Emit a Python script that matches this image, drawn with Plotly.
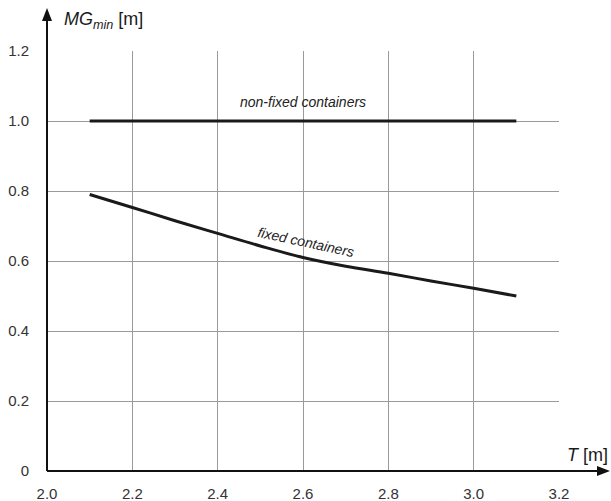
import plotly.graph_objects as go

# ---- data ----
T_fixed = [2.1, 2.2, 2.3, 2.4, 2.5, 2.6, 2.7, 2.8, 2.9, 3.0, 3.1]
MG_fixed = [0.790, 0.753, 0.715, 0.679, 0.643, 0.610, 0.585, 0.565, 0.543, 0.522, 0.500]
T_nonfixed = [2.1, 3.1]
MG_nonfixed = [1.0, 1.0]

x_ticks = [2.0, 2.2, 2.4, 2.6, 2.8, 3.0, 3.2]
x_tick_labels = ["2.0", "2.2", "2.4", "2.6", "2.8", "3.0", "3.2"]
y_ticks = [0, 0.2, 0.4, 0.6, 0.8, 1.0, 1.2]
y_tick_labels = ["0", "0.2", "0.4", "0.6", "0.8", "1.0", "1.2"]

FONT = "Liberation Sans, Arial, sans-serif"
W, H = 611, 501
ML, MR, MT, MB = 47, 52, 51, 30
PW, PH = W - ML - MR, H - MT - MB
X_TIP = (610 - ML) / PW          # x-axis arrow tip (paper)
Y_TIP = (H - MB - 8) / PH        # y-axis arrow tip (paper)
AX_COL = "#111111"

fig = go.Figure()
fig.add_trace(go.Scatter(x=T_nonfixed, y=MG_nonfixed, mode="lines",
                         line=dict(color="#1a1a1a", width=3), showlegend=False,
                         hoverinfo="skip"))
fig.add_trace(go.Scatter(x=T_fixed, y=MG_fixed, mode="lines",
                         line=dict(color="#1a1a1a", width=3, shape="spline"),
                         showlegend=False, hoverinfo="skip"))

shapes = [
    # axis lines
    dict(type="line", xref="paper", yref="paper", x0=0, y0=0, x1=X_TIP - 10 / PW, y1=0,
         line=dict(color=AX_COL, width=2), layer="above"),
    dict(type="line", xref="paper", yref="paper", x0=0, y0=0, x1=0, y1=Y_TIP - 10 / PH,
         line=dict(color=AX_COL, width=2), layer="above"),
    # arrowheads
    dict(type="path", xref="paper", yref="paper", xsizemode="pixel", ysizemode="pixel",
         xanchor=X_TIP, yanchor=0, path="M0,0 L-13,5 L-13,-5 Z",
         fillcolor=AX_COL, line=dict(width=0), layer="above"),
    dict(type="path", xref="paper", yref="paper", xsizemode="pixel", ysizemode="pixel",
         xanchor=0, yanchor=Y_TIP, path="M0,0 L-5,-13 L5,-13 Z",
         fillcolor=AX_COL, line=dict(width=0), layer="above"),
]

annotations = [
    dict(x=(62 - ML) / PW, y=(H - MB - 20) / PH, xref="paper", yref="paper",
         text="<i>MG</i><sub><i>min</i></sub> [m]", showarrow=False,
         xanchor="left", yanchor="middle", font=dict(size=18, color="#1a1a1a", family=FONT)),
    dict(x=(587 - ML) / PW, y=(H - MB - 455) / PH, xref="paper", yref="paper",
         text="<i>T</i> [m]", showarrow=False, xanchor="center", yanchor="middle",
         font=dict(size=18, color="#1a1a1a", family=FONT)),
    dict(x=2.6, y=1.053, xref="x", yref="y", text="<i>non-fixed containers</i>",
         showarrow=False, font=dict(size=14, color="#222", family=FONT)),
    dict(x=2.607, y=0.655, xref="x", yref="y", text="<i>fixed containers</i>",
         showarrow=False, textangle=12, font=dict(size=14, color="#222", family=FONT)),
]

fig.update_layout(
    width=W, height=H,
    margin=dict(l=ML, r=MR, t=MT, b=MB, autoexpand=False),
    paper_bgcolor="white", plot_bgcolor="white",
    font=dict(family=FONT, size=15, color="#333"),
    shapes=shapes,
    annotations=annotations,
    xaxis=dict(range=[2.0, 3.2], tickvals=x_ticks, ticktext=x_tick_labels,
               showgrid=True, gridcolor="#9a9a9a", gridwidth=1, zeroline=False,
               showline=False, ticks="", ticklabelstandoff=12, automargin=False,
               tickfont=dict(size=15, color="#333", family=FONT), fixedrange=True),
    yaxis=dict(range=[0, 1.2], tickvals=y_ticks, ticktext=y_tick_labels,
               showgrid=True, gridcolor="#9a9a9a", gridwidth=1, zeroline=False,
               showline=False, ticks="", ticklabelstandoff=17, automargin=False,
               tickfont=dict(size=15, color="#333", family=FONT), fixedrange=True),
)

fig.write_html("out.html", config={"displayModeBar": False})
